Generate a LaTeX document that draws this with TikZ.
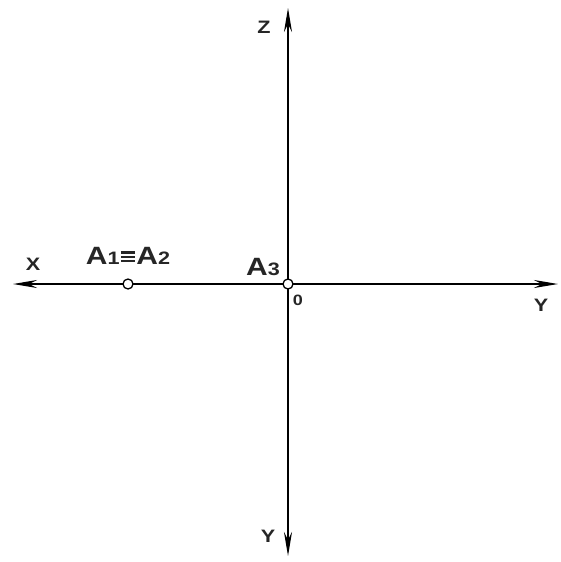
\documentclass[tikz,border=0pt]{standalone}
\usepackage{fontspec}
\setmainfont{Liberation Sans}
\usetikzlibrary{arrows.meta}
\newcommand{\wide}[1]{\scalebox{1.2}[1]{#1}}
\newcommand{\ix}[1]{{\fontsize{18}{18}\selectfont #1}}
\newcommand{\eqv}{\kern1pt\raisebox{2.5pt}{\vbox{\hrule width 12pt height 2.4pt \vskip 1.8pt \hrule width 12pt height 2.4pt \vskip 1.8pt \hrule width 12pt height 2.4pt}}\kern1pt}
\begin{document}
\begin{tikzpicture}[x=1pt,y=-1pt,>={Stealth[length=24pt,width=8pt]},line join=round,every node/.style={font=\bfseries\fontsize{25}{25}\selectfont,text=black!85,inner sep=0pt},
	axislab/.style={font=\bfseries\fontsize{18}{18}\selectfont},
	pt/.style={circle,draw,fill=white,line width=1.3pt,inner sep=0pt,minimum size=10pt}]
	\useasboundingbox (0,0) rectangle (561,562);
	\coordinate (O) at (288,284);
	\coordinate (xend) at (13,284);
	\coordinate (yend) at (558,284);
	\coordinate (zend) at (288,8);
	\coordinate (ybot) at (288,556);
	\draw[->,line width=1.8pt] (O) -- (xend);
	\draw[->,line width=1.8pt] (O) -- (yend);
	\draw[->,line width=1.8pt] (O) -- (zend);
	\draw[->,line width=1.8pt] (O) -- (ybot);
	% points
	\node[pt] (a12) at (128,284) {};
	\node[pt] (a3) at (O) {};
	% labels
	\node[axislab] (xl) at (33,264) {\wide{X}};
	\node[axislab] (yl) at (541,305) {\wide{Y}};
	\node[axislab] (zl) at (264,27) {\wide{Z}};
	\node[axislab] (yb) at (268,536) {\wide{Y}};
	\node[axislab,font=\bfseries\fontsize{15}{15}\selectfont] (ol) at (298,300) {\wide{0}};
	\node (a12l) at (128,256) {\wide{A\ix{1}\eqv A\ix{2}}};
	\node (a3l) at (263,267) {\wide{A\ix{3}}};
\end{tikzpicture}
\end{document}
